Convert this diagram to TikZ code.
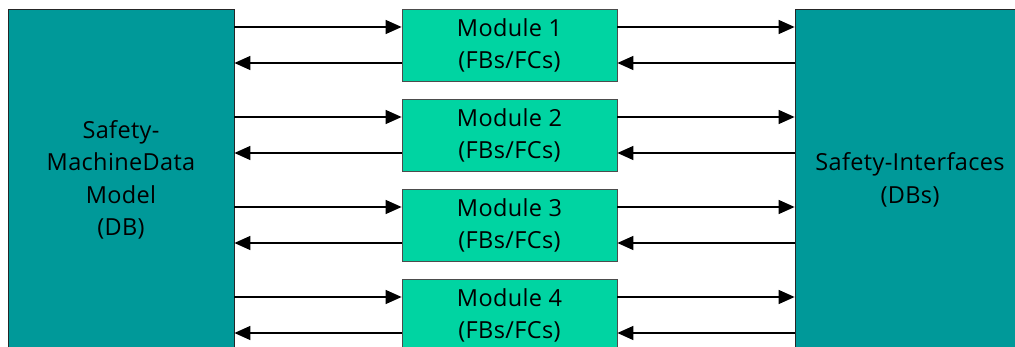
\documentclass[tikz,border=0pt]{standalone}
\usepackage{fontspec}
\setmainfont{Open Sans}[LetterSpace=1.5]
\usetikzlibrary{arrows.meta}
\definecolor{blockteal}{RGB}{0,153,153}
\definecolor{modgreen}{RGB}{0,212,162}
\begin{document}
\begin{tikzpicture}[x=1pt,y=-1pt,
  bigblock/.style={draw=black!85,line width=0.8pt,fill=blockteal,
    minimum width=#1,minimum height=342pt,inner sep=0pt,align=center,
    font=\fontsize{23.5}{32.5}\selectfont},
  modbox/.style={draw=black!70,line width=0.8pt,fill=modgreen,
    minimum width=215pt,minimum height=72pt,inner sep=0pt,align=center,
    font=\fontsize{23.5}{32}\selectfont},
  arr/.style={line width=1.4pt,-{Triangle[length=16pt,width=14pt]}}]
  \clip (0,0) rectangle (1015,347);
  \fill[white] (0,0) rectangle (1015,347);

  % data model and interface blocks
  \node[bigblock=226pt] (L) at (121,180) {Safety-\\MachineData\\Model\\(DB)};
  \node[bigblock=230pt] (R) at (910,180) {Safety-Interfaces\\(DBs)};

  % modules with their call and return paths
  \foreach \i/\y in {1/45,2/135,3/225,4/315}{
    \node[modbox] (m\i) at (509.5,\y) {Module \i\\(FBs/FCs)};
    \coordinate (fwdL\i) at ([yshift=18pt]m\i.west);
    \coordinate (retL\i) at ([yshift=-18pt]m\i.west);
    \coordinate (fwdR\i) at ([yshift=18pt]m\i.east);
    \coordinate (retR\i) at ([yshift=-18pt]m\i.east);
    \draw[arr] (fwdL\i -| L.east) -- (fwdL\i);
    \draw[arr] (retL\i) -- (retL\i -| L.east);
    \draw[arr] (fwdR\i) -- (fwdR\i -| R.west);
    \draw[arr] (retR\i -| R.west) -- (retR\i);
  }
\end{tikzpicture}
\end{document}
